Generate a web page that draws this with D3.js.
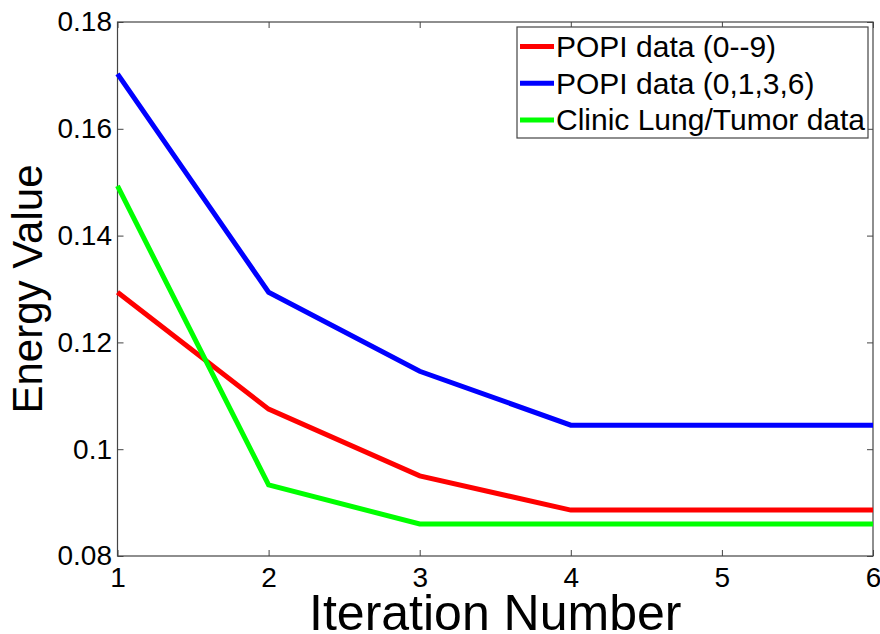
<!DOCTYPE html>
<html><head><meta charset="utf-8">
<script src="https://cdn.jsdelivr.net/npm/d3@7"></script>
<style>body{margin:0;background:#fff}svg{display:block}text{font-family:"Liberation Sans",Arial,sans-serif}</style>
</head><body><div id="chart"></div>
<script>
const iterations = [1, 2, 3, 4, 5, 6];
const popiAll = [0.1294, 0.1075, 0.0950, 0.0886, 0.0886, 0.0886];
const popiSub = [0.1703, 0.1294, 0.1146, 0.1045, 0.1045, 0.1045];
const clinic  = [0.1493, 0.0933, 0.0860, 0.0860, 0.0860, 0.0860];
const seriesNames = ["POPI data (0--9)", "POPI data (0,1,3,6)", "Clinic Lung/Tumor data"];
const seriesColors = ["#ff0000", "#0000ff", "#00ff00"];
const xTicks = [1, 2, 3, 4, 5, 6];
const yTicks = [0.08, 0.1, 0.12, 0.14, 0.16, 0.18];
const yTickLabels = ["0.08", "0.1", "0.12", "0.14", "0.16", "0.18"];

const W = 880, H = 634;
const L = 117.5, R = 873, T = 22, B = 556;
const svg = d3.select("#chart").append("svg").attr("width", W).attr("height", H);
const x = d3.scaleLinear().domain([1, 6]).range([L, R]);
const y = d3.scaleLinear().domain([0.08, 0.18]).range([B, T]);
const axisColor = "#444";

svg.append("rect").attr("x", L).attr("y", T).attr("width", R - L).attr("height", B - T)
  .attr("fill", "none").attr("stroke", axisColor).attr("stroke-width", 1.2);

function styleAxis(g) {
  g.select(".domain").remove();
  g.selectAll(".tick line").attr("stroke", axisColor);
  g.selectAll(".tick text").attr("fill", "#000").style("font-size", "28px");
}
svg.append("g").attr("transform", `translate(0,${B})`)
  .call(d3.axisBottom(x).tickValues(xTicks).tickSize(-6).tickPadding(11).tickFormat(d3.format("d")))
  .call(styleAxis);
svg.append("g").attr("transform", `translate(0,${T})`)
  .call(d3.axisTop(x).tickValues(xTicks).tickSize(-6).tickFormat(""))
  .call(styleAxis);
svg.append("g").attr("transform", `translate(${L},0)`)
  .call(d3.axisLeft(y).tickValues(yTicks).tickSize(-6).tickPadding(5.5).tickFormat((d, i) => yTickLabels[i]))
  .call(styleAxis);
svg.append("g").attr("transform", `translate(${R},0)`)
  .call(d3.axisRight(y).tickValues(yTicks).tickSize(-6).tickFormat(""))
  .call(styleAxis);

const data = [popiAll, popiSub, clinic];
const line = d3.line().x((d, i) => x(iterations[i])).y(d => y(d));
data.forEach((s, k) => {
  svg.append("path").datum(s).attr("d", line).attr("fill", "none")
    .attr("stroke", seriesColors[k]).attr("stroke-width", 5).attr("stroke-linejoin", "miter");
});

svg.append("text").attr("x", (L + R) / 2).attr("y", 630).attr("text-anchor", "middle")
  .style("font-size", "50px").text("Iteration Number");
svg.append("text").attr("transform", `translate(42,${(T + B) / 2}) rotate(-90)`)
  .attr("text-anchor", "middle").style("font-size", "42px").text("Energy Value");

const lg = svg.append("g");
lg.append("rect").attr("x", 517).attr("y", 27).attr("width", 351).attr("height", 111)
  .attr("fill", "#fff").attr("stroke", axisColor).attr("stroke-width", 1.2);
seriesNames.forEach((n, k) => {
  const cy = 46.5 + k * 36.7;
  lg.append("line").attr("x1", 520).attr("x2", 554).attr("y1", cy).attr("y2", cy)
    .attr("stroke", seriesColors[k]).attr("stroke-width", 5);
  lg.append("text").attr("x", 556).attr("y", cy + 10.5).style("font-size", "30px").text(n);
});
</script></body></html>
